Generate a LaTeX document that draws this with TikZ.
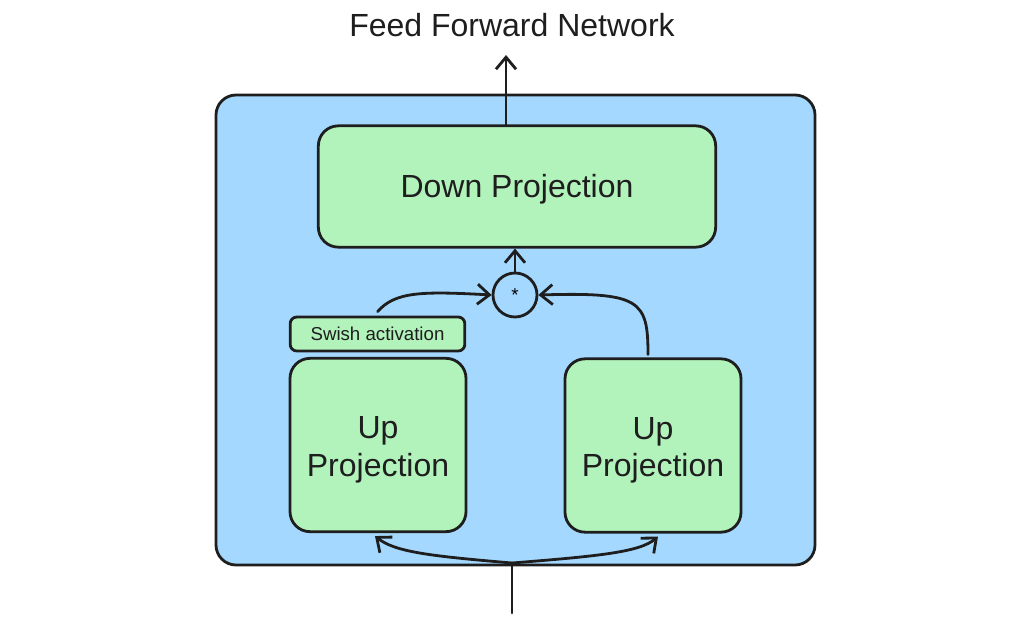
\documentclass[tikz,border=0pt]{standalone}
\usepackage{fontspec}
\setmainfont{Liberation Sans}
\usetikzlibrary{arrows.meta,calc}
\definecolor{ink}{HTML}{1E1E1E}
\definecolor{bluefill}{HTML}{A5D8FF}
\definecolor{greenfill}{HTML}{B2F2BB}
\newcommand{\lowr}[1]{\raisebox{-3.5pt}[\height][\depth]{#1}}
\tikzset{
  px/.style={x=0.75pt,y=-0.75pt},
  outerbox/.style={draw=ink,fill=bluefill,line width=2.1pt,rounded corners=15pt},
  greenbox/.style={draw=ink,fill=greenfill,line width=2.1pt,rounded corners=15pt,inner sep=0pt,align=center,font=\fontsize{24}{28}\selectfont,text=ink},
  smallbox/.style={draw=ink,fill=greenfill,line width=2.1pt,rounded corners=5pt,inner sep=0pt,font=\fontsize{14}{16}\selectfont,text=ink},
  opcircle/.style={draw=ink,fill=bluefill,line width=2.1pt,circle,inner sep=0pt,minimum size=33pt,font=\fontsize{14}{16}\selectfont},
  conn/.style={draw=ink,line width=2.1pt,line cap=round,-{Straight Barb[length=9pt,width=15pt,line width=2.1pt]}},
  plain/.style={draw=ink,line width=2.1pt,line cap=round},
}
\begin{document}
\begin{tikzpicture}[px]
\useasboundingbox (0,0) rectangle (1024,621);
\draw[outerbox] (216,95) rectangle (815,565);
\node[greenbox,minimum width=298pt,minimum height=91pt] (down) at (517,186.5) {\raisebox{-2pt}[\height][\depth]{Down Projection}};
\node[opcircle] (mul) at (515,295) {*};
\node[smallbox,minimum width=131pt,minimum height=25.5pt] (swish) at (377.5,334) {Swish activation};
\node[greenbox,minimum width=132pt,minimum height=130pt] (upL) at (378,445) {\lowr{Up}\\\lowr{Projection}};
\node[greenbox,minimum width=132pt,minimum height=130pt] (upR) at (653,445.5) {\lowr{Up}\\\lowr{Projection}};
\node[font=\fontsize{24}{28}\selectfont,text=ink] (title) at (512,25) {Feed Forward Network};
\coordinate (outtip) at (506,55);
\coordinate (in) at (512,613);
\coordinate (split) at (512,563);
% output arrow
\draw[conn] (down.north -| outtip) -- (outtip);
% circle to down projection
\draw[conn] (mul.north) -- (down.south -| mul.north);
% swish to circle
\draw[conn] ($(swish.north)+(0,-4)$) .. controls (395,292) and (420,291) .. (mul.west);
% right up projection to circle
\draw[conn] ($(upR.north)+(-5,-3)$) .. controls (648,300) and (640,292) .. (mul.east);
% input
\draw[plain] (in) -- (split);
\draw[conn] (split) .. controls (430,556) and (395,552) .. ($(upL.south)+(-3,3)$);
\draw[conn] (split) .. controls (600,556) and (640,552) .. ($(upR.south)+(5,3)$);
\end{tikzpicture}
\end{document}
